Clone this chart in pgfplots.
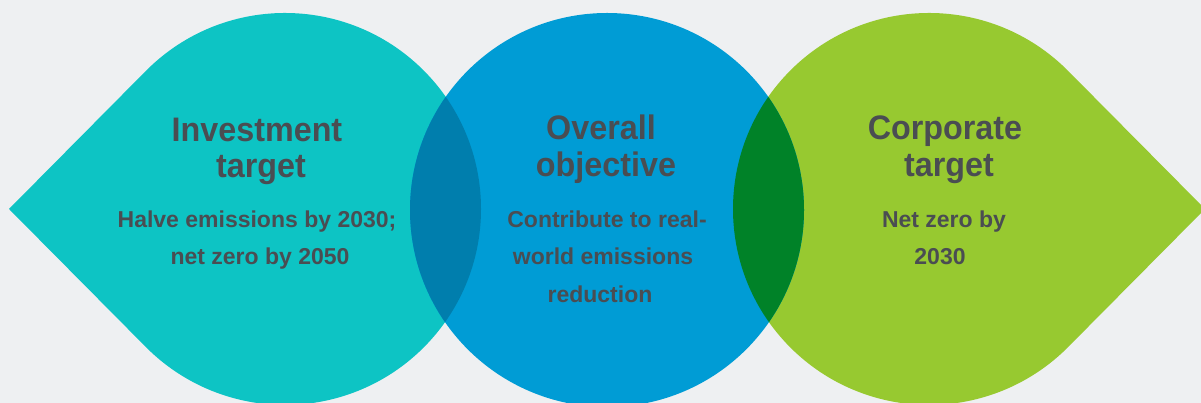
\documentclass[border=0pt]{standalone}
\usepackage{fontspec}
\setmainfont{Liberation Sans}
\newfontfamily\titlefont{Liberation Sans}[FakeStretch=0.95]
\usepackage{pgfplots}
\pgfplotsset{compat=1.18}
\definecolor{bg}{HTML}{EEF0F2}
\definecolor{teal}{HTML}{0DC4C4}
\definecolor{blue}{HTML}{009CD5}
\definecolor{lime}{HTML}{97C930}
\definecolor{tealblue}{HTML}{007EAD}
\definecolor{dgreen}{HTML}{008228}
\definecolor{txt}{HTML}{4A4D52}
\begin{document}
\begin{tikzpicture}
\begin{axis}[
  x=1pt, y=1pt, scale only axis,
  xmin=0, xmax=1201, ymin=0, ymax=403,
  hide axis, clip=true,
]
\coordinate (SW) at (axis cs:0,0);
\coordinate (NE) at (axis cs:1201,403);
\begin{scope}
\clip (axis cs:0,0) rectangle (axis cs:1201,403);
\fill[bg] (axis cs:0,0) rectangle (axis cs:1201,403);
% left teardrop
\fill[teal] (axis cs:9,194) -- (axis cs:145.8,332.0) arc[start angle=135.25, end angle=-135.25, radius=196pt] -- cycle;
% right teardrop
\fill[lime] (axis cs:1205,194) -- (axis cs:1068.2,332.0) arc[start angle=44.75, end angle=315.25, radius=196pt] -- cycle;
% centre circle
\fill[blue] (axis cs:607,193) circle[radius=197pt];
% overlaps
\begin{scope}
\clip (axis cs:607,193) circle[radius=197pt];
\fill[tealblue] (axis cs:285,194) circle[radius=196pt];
\fill[dgreen] (axis cs:929,194) circle[radius=196pt];
\end{scope}
\end{scope}
% titles
\begin{scope}[every node/.style={anchor=base, text=txt, inner sep=0pt}]
\node at (axis cs:257,261) {\titlefont\bfseries\fontsize{34}{36}\selectfont Investment};
\node at (axis cs:261,225) {\titlefont\bfseries\fontsize{34}{36}\selectfont target};
\node at (axis cs:257,175) {\bfseries\fontsize{23}{37}\selectfont Halve emissions by 2030;};
\node at (axis cs:260,138) {\bfseries\fontsize{23}{37}\selectfont net zero by 2050};

\node at (axis cs:601,263) {\titlefont\bfseries\fontsize{34}{36}\selectfont Overall};
\node at (axis cs:606,226) {\titlefont\bfseries\fontsize{34}{36}\selectfont objective};
\node at (axis cs:607,175) {\bfseries\fontsize{23}{37}\selectfont Contribute to real-};
\node at (axis cs:603,138) {\bfseries\fontsize{23}{37}\selectfont world emissions};
\node at (axis cs:600,100) {\bfseries\fontsize{23}{37}\selectfont reduction};

\node at (axis cs:945,263) {\titlefont\bfseries\fontsize{34}{36}\selectfont Corporate};
\node at (axis cs:949,226) {\titlefont\bfseries\fontsize{34}{36}\selectfont target};
\node at (axis cs:944,175) {\bfseries\fontsize{23}{37}\selectfont Net zero by};
\node at (axis cs:940,138) {\bfseries\fontsize{23}{37}\selectfont 2030};
\end{scope}
\end{axis}
\pgfresetboundingbox
\useasboundingbox (SW) rectangle (NE);
\end{tikzpicture}
\end{document}
